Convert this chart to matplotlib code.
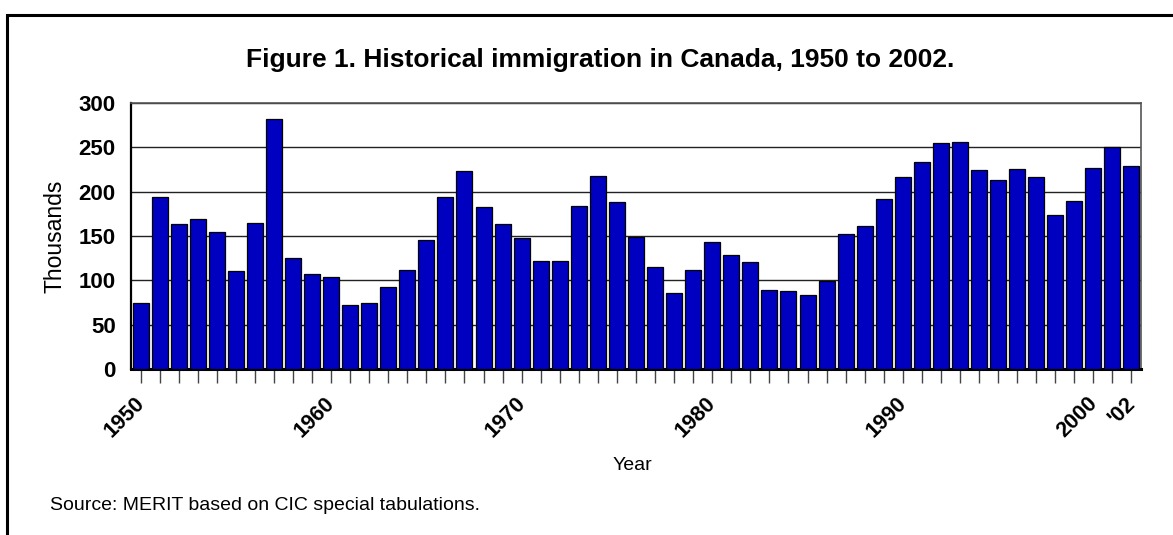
import matplotlib
matplotlib.use("Agg")
import matplotlib.pyplot as plt
import matplotlib.transforms as mtransforms
from matplotlib.patches import Rectangle

# Annual immigrant arrivals to Canada (thousands)
years = list(range(1950, 2003))
immigrants = [
    74, 194, 164, 169, 154, 110, 165, 282, 125, 107,
    104, 72, 75, 93, 112, 146, 194, 223, 183, 164,
    148, 122, 122, 184, 218, 188, 149, 115, 86, 112,
    143, 129, 121, 89, 88, 84, 99, 152, 161, 192,
    216, 233, 255, 256, 224, 213, 226, 216, 174, 190,
    227, 250, 229,
]
labelled_years = {1950: "1950", 1960: "1960", 1970: "1970", 1980: "1980",
                  1990: "1990", 2000: "2000", 2002: "'02"}
y_ticks = [0, 50, 100, 150, 200, 250, 300]

title = "Figure 1. Historical immigration in Canada, 1950 to 2002."
source = "Source: MERIT based on CIC special tabulations."

plt.rcParams["font.family"] = ["Liberation Sans", "DejaVu Sans"]

W, H = 1173, 535
fig = plt.figure(figsize=(W / 100, H / 100), dpi=100)
fig.patch.set_facecolor("white")

# outer chart border (runs off the right and bottom edges)
fig.patches.append(Rectangle((7 / W, -0.05), 1.2, 1 - 15 / H + 0.05,
                             transform=fig.transFigure, fill=False,
                             edgecolor="black", linewidth=2.2, zorder=0))

ax = fig.add_axes([131 / W, 1 - 369 / H, 1010 / W, 266 / H])
x = list(range(len(years)))
ax.bar(x, immigrants, width=0.84, color="#0000C0", edgecolor="black",
       linewidth=0.9, zorder=3)

ax.set_xlim(-0.5, len(years) - 0.5)
ax.set_ylim(0, 300)
ax.set_yticks(y_ticks)
ax.set_yticklabels([str(v) for v in y_ticks], fontsize=16, fontweight="bold")
ax.tick_params(axis="y", length=0, pad=11)
ax.yaxis.grid(True, color="#222222", linewidth=1.0, zorder=0)
ax.set_axisbelow(True)

ax.set_xticks(x)
ax.set_xticklabels([labelled_years.get(y, "") for y in years],
                   rotation=45, ha="right", fontsize=15.5, fontweight="bold")
ax.tick_params(axis="x", length=10, width=1.0, color="#444444", pad=7)
offset = mtransforms.ScaledTranslation(8 / 100, 0, fig.dpi_scale_trans)
for lbl in ax.get_xticklabels():
    lbl.set_transform(lbl.get_transform() + offset)

for side in ("top", "right"):
    ax.spines[side].set_color("#555555")
    ax.spines[side].set_linewidth(1.2)
ax.spines["left"].set_linewidth(1.6)
ax.spines["bottom"].set_linewidth(2.2)

fig.text(600 / W, 1 - 60 / H, title, ha="center", va="center",
         fontsize=19, fontweight="bold")
fig.text(55 / W, 1 - 236 / H, "Thousands", rotation=90, ha="center",
         va="center", fontsize=16.5)
fig.text(632 / W, 1 - 466 / H, "Year", ha="center", va="center", fontsize=14)
fig.text(50 / W, 1 - 505 / H, source, ha="left", va="center", fontsize=14)

fig.savefig("out.png", dpi=100)
